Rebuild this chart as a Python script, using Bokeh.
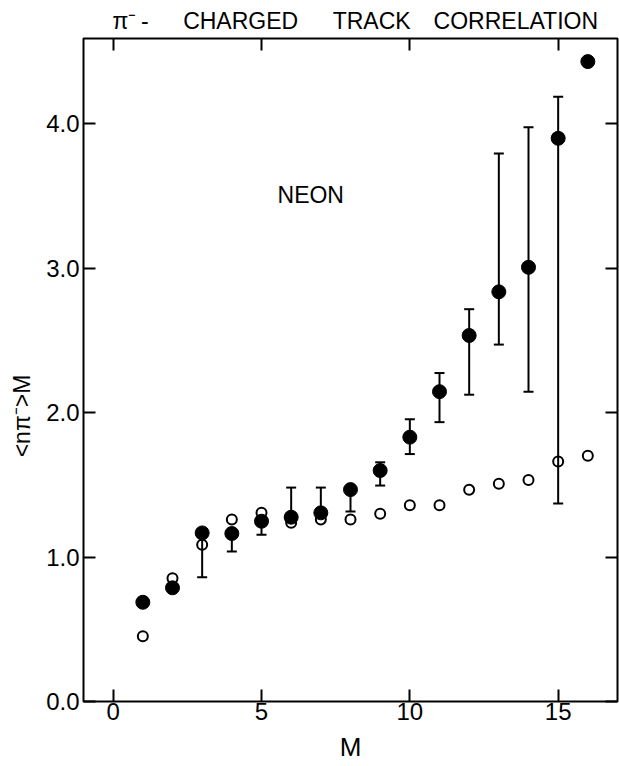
from bokeh.plotting import figure
from bokeh.models import (Range1d, FixedTicker, LinearAxis, PrintfTickFormatter,
                          CustomJSTickFormatter, Label, Whisker, ColumnDataSource, TeeHead)
from bokeh.embed import file_html
from bokeh.resources import INLINE

M = [1, 2, 3, 4, 5, 6, 7, 8, 9, 10, 11, 12, 13, 14, 15, 16]
filled_vals = [0.687, 0.787, 1.167, 1.163, 1.248, 1.276, 1.306, 1.467,
               1.599, 1.830, 2.145, 2.534, 2.836, 3.006, 3.899, 4.430]
open_vals = [0.452, 0.853, 1.086, 1.260, 1.306, 1.237, 1.260, 1.260,
             1.299, 1.359, 1.359, 1.466, 1.507, 1.534, 1.661, 1.702]

err_M = [3, 4, 5, 6, 7, 8, 9, 10, 11, 12, 13, 14, 15]
err_lower = [0.860, 1.038, 1.154, 1.276, 1.306, 1.315, 1.495,
             1.713, 1.934, 2.124, 2.471, 2.145, 1.370]
err_upper = [1.167, 1.163, 1.248, 1.481, 1.481, 1.467, 1.656,
             1.954, 2.274, 2.716, 3.794, 3.976, 4.187]

x_ticks = [0, 5, 10, 15]
y_ticks = [0, 1, 2, 3, 4]

title_text = ("\u03c0\u207b\u2009-\u2002\u2002\u2002CHARGED\u2002\u2002\u2002"
              "TRACK\u2002\u2002CORRELATION")
x_label = "M"
# trailing em spaces shift the visible label below the frame centre, as in the original
y_label = "<n\u03c0\u207b>M\u2003\u2003\u2003\u2003"
note_text = "NEON"

FONT = "Liberation Sans"

p = figure(width=619, height=766,
           x_range=Range1d(-1, 17), y_range=Range1d(0, 4.59),
           output_backend="svg", toolbar_location=None,
           min_border_left=83, min_border_right=2,
           min_border_top=38, min_border_bottom=65,
           background_fill_color="white", border_fill_color="white")

p.title.text = title_text
p.title.align = "left"
p.title.offset = 29
p.title.standoff = 9
p.title.text_font = FONT
p.title.text_font_size = "23px"
p.title.text_font_style = "normal"
p.title.text_color = "black"

p.xgrid.visible = False
p.ygrid.visible = False
p.outline_line_color = "black"
p.outline_line_width = 2
p.outline_line_alpha = 1.0

p.xaxis.ticker = FixedTicker(ticks=x_ticks, minor_ticks=[])
p.yaxis.ticker = FixedTicker(ticks=y_ticks, minor_ticks=[])
p.yaxis.formatter = PrintfTickFormatter(format="%.1f")

for ax in [p.xaxis[0], p.yaxis[0]]:
    ax.major_tick_in = 12
    ax.major_tick_out = 0
    ax.minor_tick_in = 0
    ax.minor_tick_out = 0
    ax.axis_line_color = None
    ax.major_tick_line_width = 2
    ax.major_tick_line_color = "black"
    ax.major_label_text_font = FONT
    ax.major_label_text_font_size = "24px"
    ax.major_label_text_color = "black"

p.yaxis.major_label_standoff = 4
p.yaxis.axis_label = y_label
p.yaxis.axis_label_text_font = FONT
p.yaxis.axis_label_text_font_size = "23px"
p.yaxis.axis_label_text_font_style = "normal"
p.yaxis.axis_label_text_color = "black"
p.yaxis.axis_label_standoff = 8

p.xaxis.major_label_standoff = 1
p.xaxis.axis_label = x_label
p.xaxis.axis_label_text_font = FONT
p.xaxis.axis_label_text_font_size = "26px"
p.xaxis.axis_label_text_font_style = "normal"
p.xaxis.axis_label_text_color = "black"
p.xaxis.axis_label_standoff = 9

for ticks, side in [(x_ticks, "above"), (y_ticks, "right")]:
    ax = LinearAxis(ticker=FixedTicker(ticks=ticks, minor_ticks=[]),
                    formatter=CustomJSTickFormatter(code="return ''"),
                    major_tick_in=12, major_tick_out=0,
                    minor_tick_in=0, minor_tick_out=0,
                    major_tick_line_width=2, major_tick_line_color="black",
                    axis_line_color=None, major_label_standoff=0,
                    major_label_text_font_size="0px")
    p.add_layout(ax, side)

err_src = ColumnDataSource(dict(base=err_M, lower=err_lower, upper=err_upper))
wh = Whisker(source=err_src, base="base", lower="lower", upper="upper",
             dimension="height", line_width=2, line_color="black", level="underlay",
             upper_head=TeeHead(size=10, line_width=2, line_color="black"),
             lower_head=TeeHead(size=10, line_width=2, line_color="black"))
p.add_layout(wh)

p.scatter(M, open_vals, marker="circle", size=10, fill_color=None,
          line_color="black", line_width=2)
p.scatter(M, filled_vals, marker="circle", size=14, fill_color="black",
          line_color="black", line_width=1)

p.add_layout(Label(x=5.54, y=3.51, text=note_text, text_font=FONT,
                   text_font_size="23px", text_color="black",
                   text_align="left", text_baseline="alphabetic"))

open("out.html", "w").write(file_html(p, INLINE))
